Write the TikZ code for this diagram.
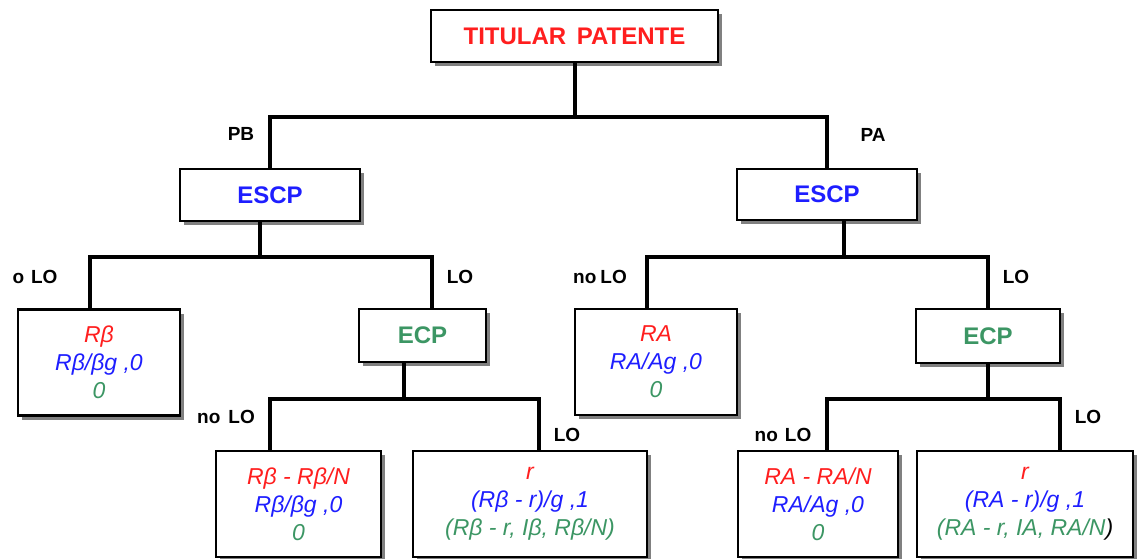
\documentclass[tikz,border=0pt]{standalone}
\usepackage{fontspec}
\setmainfont{Liberation Sans}
\usetikzlibrary{shadows,calc}
\definecolor{cred}{RGB}{255,30,30}
\definecolor{cblue}{RGB}{30,30,255}
\definecolor{cgreen}{RGB}{60,150,100}
\begin{document}
\begin{tikzpicture}[x=1pt,y=1pt]
\tikzset{
 box/.style={draw=black, line width=2.8pt, fill=white, inner sep=0pt, align=center,
   drop shadow={shadow xshift=4pt, shadow yshift=-4pt, fill=black!50, opacity=1}},
 conn/.style={line width=4pt, line join=miter},
 title/.style={font=\fontsize{24}{28}\selectfont\bfseries},
 leaf/.style={font=\fontsize{23}{28}\selectfont\itshape},
 lab/.style={font=\fontsize{19}{20}\selectfont\bfseries, inner sep=0pt},
}
\fill[white] (0,0) rectangle (1137,-558);
\useasboundingbox (0,0) rectangle (1137,-558);

% boxes
\node[box, title, minimum width=287, minimum height=52] (tp) at (574.5,-36) {\textcolor{cred}{TITULAR\hspace{4pt} PATENTE}};
\node[box, title, minimum width=180, minimum height=52] (escpL) at (270,-195) {\textcolor{cblue}{ESCP}};
\node[box, title, minimum width=180, minimum height=51] (escpR) at (827,-194.5) {\textcolor{cblue}{ESCP}};
\node[box, title, minimum width=127, minimum height=53] (ecpL) at (422.5,-335.5) {\textcolor{cgreen}{ECP}};
\node[box, title, minimum width=144, minimum height=54] (ecpR) at (988,-336) {\textcolor{cgreen}{ECP}};

\node[box, leaf, minimum width=162, minimum height=106] (lf1) at (99,-362.5)
  {\textcolor{cred}{Rβ}\\\textcolor{cblue}{Rβ/βg ,0}\\\textcolor{cgreen}{0}};
\node[box, leaf, minimum width=162, minimum height=106] (lfRA) at (656,-362)
  {\textcolor{cred}{RA}\\\textcolor{cblue}{RA/Ag ,0}\\\textcolor{cgreen}{0}};
\node[box, leaf, minimum width=165, minimum height=106] (b1) at (298.5,-504)
  {\textcolor{cred}{Rβ - Rβ/N}\\\textcolor{cblue}{Rβ/βg ,0}\\\textcolor{cgreen}{0}};
\node[box, leaf, minimum width=234, minimum height=106] (b2) at (530,-504)
  {\textcolor{cred}{r}\\\textcolor{cblue}{(Rβ - r)/g ,1}\\\textcolor{cgreen}{(Rβ - r, Iβ, Rβ/N)}};
\node[box, leaf, minimum width=160, minimum height=106] (b3) at (818,-504)
  {\textcolor{cred}{RA - RA/N}\\\textcolor{cblue}{RA/Ag ,0}\\\textcolor{cgreen}{0}};
\node[box, leaf, minimum width=216, minimum height=106] (b4) at (1025,-504)
  {\textcolor{cred}{r}\\\textcolor{cblue}{(RA - r)/g ,1}\\\textcolor{cgreen}{(RA - r, IA, RA/N}\textcolor{black}{)}};

% connectors
\draw[conn] (tp.south) -- ++(0,-54) coordinate (j0);
\draw[conn] (escpL.north) |- (j0) -| (escpR.north);

\draw[conn] ($(escpL.south)+(-10,0)$) -- ++(0,-35) coordinate (j1);
\draw[conn] ($(lf1.north)+(-9,0)$) |- (j1) -| ($(ecpL.north)+(9.5,0)$);

\draw[conn] ($(escpR.south)+(17,0)$) -- ++(0,-36) coordinate (j2);
\draw[conn] ($(lfRA.north)+(-9,0)$) |- (j2) -| (ecpR.north);

\draw[conn] ($(ecpL.south)+(-18.5,0)$) -- ++(0,-36) coordinate (j3);
\draw[conn] ($(b1.north)+(-28.5,0)$) |- (j3) -| ($(b2.north)+(9,0)$);

\draw[conn] (ecpR.south) -- ++(0,-35) coordinate (j4);
\draw[conn] ($(b3.north)+(9,0)$) |- (j4) -| ($(b4.north)+(35,0)$);

% labels
\node[lab] (lPB) at (241,-134) {PB};
\node[lab] (lPA) at (873,-135) {PA};
\node[lab] (l1) at (35,-277) {o\hspace{7pt}LO};
\node[lab] (l2) at (460,-277) {LO};
\node[lab] (l3) at (600,-277) {no\hspace{4pt}LO};
\node[lab] (l4) at (1016,-277) {LO};
\node[lab] (l5) at (226,-417) {no\hspace{8pt}LO};
\node[lab] (l6) at (567,-435) {LO};
\node[lab] (l7) at (783,-435) {no\hspace{7pt}LO};
\node[lab] (l8) at (1088,-417) {LO};
\end{tikzpicture}
\end{document}
